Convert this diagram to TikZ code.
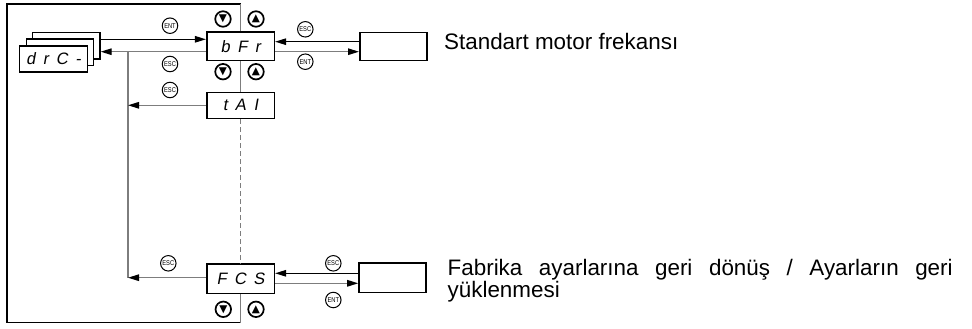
\documentclass[tikz,border=0pt]{standalone}
\usepackage{fontspec}
\usepackage{graphicx}
\setmainfont{Liberation Sans}
\newfontfamily\symfont{DejaVu Sans}
\newfontfamily\segfont{Liberation Sans}[FakeSlant=0.18]
\usetikzlibrary{arrows.meta,calc}
\definecolor{lg}{RGB}{125,125,125}
\newcommand\sg{\hspace{7.5pt}}
\newcommand\bt[1]{\scalebox{0.82}[1]{#1}}
\begin{document}
\begin{tikzpicture}[x=1pt,y=-1pt,
  ln/.style={line width=1.3pt,draw=black},
  gl/.style={line width=1.3pt,draw=lg},
  arr/.style={-{Triangle[length=11pt,width=6.5pt,color=black]}},
  disp/.style={draw,line width=1.6pt,fill=white,minimum width=67.6pt,inner sep=0pt,
    font=\segfont\fontsize{16.5}{17}\selectfont},
  blank/.style={draw,line width=1.6pt,minimum width=67pt,inner sep=0pt},
  btn/.style={circle,draw,line width=1pt,minimum size=15.5pt,inner sep=0pt,
    font=\fontsize{7}{7}\selectfont},
  nav/.style={circle,draw,line width=1.7pt,minimum size=15.5pt,inner sep=0pt,
    font=\symfont\fontsize{10.5}{10.5}\selectfont},
  lbl/.style={inner sep=0pt,font=\fontsize{22.4}{26}\selectfont},
]
\useasboundingbox (0,0) rectangle (972,329);
% frame corners
\coordinate (tr) at (240.5,4);
\coordinate (tl) at (7,4);
\coordinate (bl) at (7,322.7);
\coordinate (br) at (240.5,322.7);
\coordinate (vx) at (128,0);
% displays
\node[disp,minimum height=28.4pt] (bfr) at (240.5,46.5) {b\sg F\sg r};
\node[disp,minimum height=26pt] (tai) at (240.5,105.3) {t\sg A\sg I};
\node[disp,minimum height=29.3pt] (fcs) at (240.5,278.7) {F\sg C\sg S};
% drC- stack
\node[disp,minimum width=67.5pt,minimum height=26.5pt,line width=1.3pt] (drc3) at (66.3,45.8) {};
\node[disp,minimum width=67.5pt,minimum height=26.5pt,line width=1.3pt] (drc2) at (60,52.3) {};
\node[disp,minimum width=68pt,minimum height=26.5pt,line width=1.8pt] (drc1) at (53.5,59) {d\sg r\sg C\sg -};
% right boxes
\node[blank,minimum height=28pt] (r1) at (393.3,46.7) {};
\node[blank,minimum height=29.6pt] (r2) at (392.5,277.5) {};
% frame
\draw[line width=1.3pt] (tr) -- (tl) -- (bl) -- (br);
\draw[gl] (tr) -- (bfr.north);
\draw[gl] (bfr.south) -- (tai.north);
\draw[gl,dash pattern=on 5pt off 3pt] (tai.south) -- (fcs.north);
\draw[gl] (fcs.south) -- (br);
% left connectors
\coordinate (e1) at ([yshift=7.2pt]bfr.west);
\coordinate (e2) at ([yshift=-5.2pt]bfr.west);
\coordinate (e4) at ([yshift=1pt]fcs.west);
\draw[ln,arr] (drc3.east |- e1) -- (e1);
\draw[gl,arr] (e2) -- (drc3.east |- e2);
\draw[gl] (vx |- e2) -- (vx |- e4);
\draw[gl,arr] (tai.west) -- (vx |- tai.west);
\draw[gl,arr] (e4) -- (vx |- e4);
% right connectors
\coordinate (e5) at ([yshift=4.8pt]bfr.east);
\coordinate (e6) at ([yshift=-5.2pt]bfr.east);
\coordinate (e7) at ([yshift=5.4pt]fcs.east);
\coordinate (e8) at ([yshift=-4.6pt]fcs.east);
\draw[ln,arr] (r1.west |- e5) -- (e5);
\draw[gl,arr] (e6) -- (r1.west |- e6);
\draw[ln,arr] (r2.west |- e7) -- (e7);
\draw[gl,arr] (e8) -- (r2.west |- e8);
% buttons
\node[btn] (b1) at (170,25.7) {\bt{ENT}};
\node[btn] (b2) at (170,64) {\bt{ESC}};
\node[btn] (b3) at (170,90) {\bt{ESC}};
\node[btn] (b4) at (168.3,263.3) {\bt{ESC}};
\node[btn] (b5) at (305.3,29.3) {\bt{ESC}};
\node[btn] (b6) at (305.3,61.7) {\bt{ENT}};
\node[btn] (b7) at (333.3,263.3) {\bt{ESC}};
\node[btn] (b8) at (333.3,300) {\bt{ENT}};
\node[nav] (n1) at (223,19) {▼};
\node[nav] (n2) at (256,19) {▲};
\node[nav] (n3) at (223,71.7) {▼};
\node[nav] (n4) at (256,71.7) {▲};
\node[nav] (n5) at (223.3,309.3) {▼};
\node[nav] (n6) at (256,309.3) {▲};
% labels
\node[lbl,anchor=base west] (t1) at (444,49.3) {Standart motor frekansı};
\node[lbl,anchor=base west] (t2) at (447.5,275) {\makebox[505pt][s]{Fabrika ayarlarına geri dönüş / Ayarların geri}};
\node[lbl,anchor=base west] (t3) at (447.5,297.5) {yüklenmesi};
\end{tikzpicture}
\end{document}
